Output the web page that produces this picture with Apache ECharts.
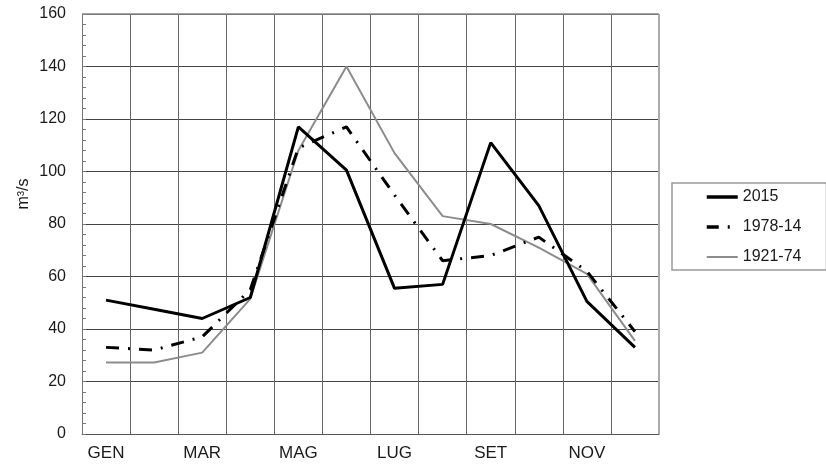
<!DOCTYPE html>
<html>
<head>
<meta charset="utf-8">
<script src="https://cdn.jsdelivr.net/npm/echarts@6/dist/echarts.min.js"></script>
<style>html,body{margin:0;padding:0;background:#fff}#c{width:826px;height:470px}</style>
</head>
<body>
<div id="c"></div>
<script>
const months = ['GEN','FEB','MAR','APR','MAG','GIU','LUG','AGO','SET','OTT','NOV','DIC'];
const s2015 = [51, 47.5, 44, 52, 117, 100.5, 55.5, 57, 111, 87, 50.5, 33];
const s1978 = [33, 32, 37, 55, 109, 117, 91, 66, 68, 75, 62, 39];
const s1921 = [27.2, 27.2, 31, 51.5, 108, 140, 107, 83, 80, 71, 61, 35.5];
const yTicks = {min: 0, max: 160, interval: 20};

const chart = echarts.init(document.getElementById('c'));
const font = 'Liberation Sans, Arial, sans-serif';
chart.setOption({
  animation: false,
  grid: {left: 82, right: 167, top: 14, bottom: 36},
  legend: {
    orient: 'vertical',
    left: 672, top: 183,
    padding: [6, 25, 5, 33],
    itemWidth: 31, itemHeight: 14, itemGap: 14,
    borderColor: '#9a9a9a', borderWidth: 1.5,
    itemStyle: {opacity: 0},
    textStyle: {fontFamily: font, fontSize: 16, color: '#1a1a1a'},
    data: [
      {name: '2015', lineStyle: {width: 3.5, color: '#000'}},
      {name: '1978-14', lineStyle: {width: 3.5, color: '#000', type: [12, 9, 2, 9]}},
      {name: '1921-74', lineStyle: {width: 2, color: '#8c8c8c'}}
    ]
  },
  xAxis: {
    type: 'category',
    data: months,
    boundaryGap: true,
    axisLine: {show: true, lineStyle: {color: '#555', width: 1}},
    axisTick: {show: false, interval: 0},
    axisLabel: {interval: 1, margin: 11, fontFamily: font, fontSize: 17, color: '#1a1a1a'},
    splitLine: {show: true, interval: 0, lineStyle: {color: '#666', width: 1}}
  },
  yAxis: {
    type: 'value',
    min: yTicks.min, max: yTicks.max, interval: yTicks.interval,
    name: 'm³/s',
    nameLocation: 'middle',
    nameGap: 50,
    nameMoveOverlap: false,
    nameTextStyle: {fontFamily: font, fontSize: 16, color: '#1a1a1a', padding: [0, 0, 0, 60]},
    axisLine: {show: true, lineStyle: {color: '#777', width: 1}},
    axisTick: {show: true, inside: true, length: 4, lineStyle: {color: '#777'}},
    minorTick: {show: true, splitNumber: 5, length: 4, lineStyle: {color: '#777'}},
    axisLabel: {margin: 16, fontFamily: font, fontSize: 16, color: '#1a1a1a'},
    splitLine: {show: true, lineStyle: {color: '#444', width: 1}}
  },
  series: [
    {name: '2015', type: 'line', data: s2015, symbol: 'none',
     lineStyle: {color: '#000', width: 3}, itemStyle: {color: '#000'}, z: 5},
    {name: '1978-14', type: 'line', data: s1978, symbol: 'none',
     lineStyle: {color: '#000', width: 3, type: [13, 9, 2, 9]}, itemStyle: {color: '#000'}, z: 4},
    {name: '1921-74', type: 'line', data: s1921, symbol: 'none',
     lineStyle: {color: '#8c8c8c', width: 2}, itemStyle: {color: '#8c8c8c'}, z: 3}
  ],
  graphic: [
    {type: 'line', shape: {x1: 82, y1: 14, x2: 659, y2: 14}, style: {stroke: '#888', lineWidth: 1.5}, z: 10},
    {type: 'line', shape: {x1: 659, y1: 14, x2: 659, y2: 434}, style: {stroke: '#aaa', lineWidth: 2}, z: 10}
  ]
});
</script>
</body>
</html>
